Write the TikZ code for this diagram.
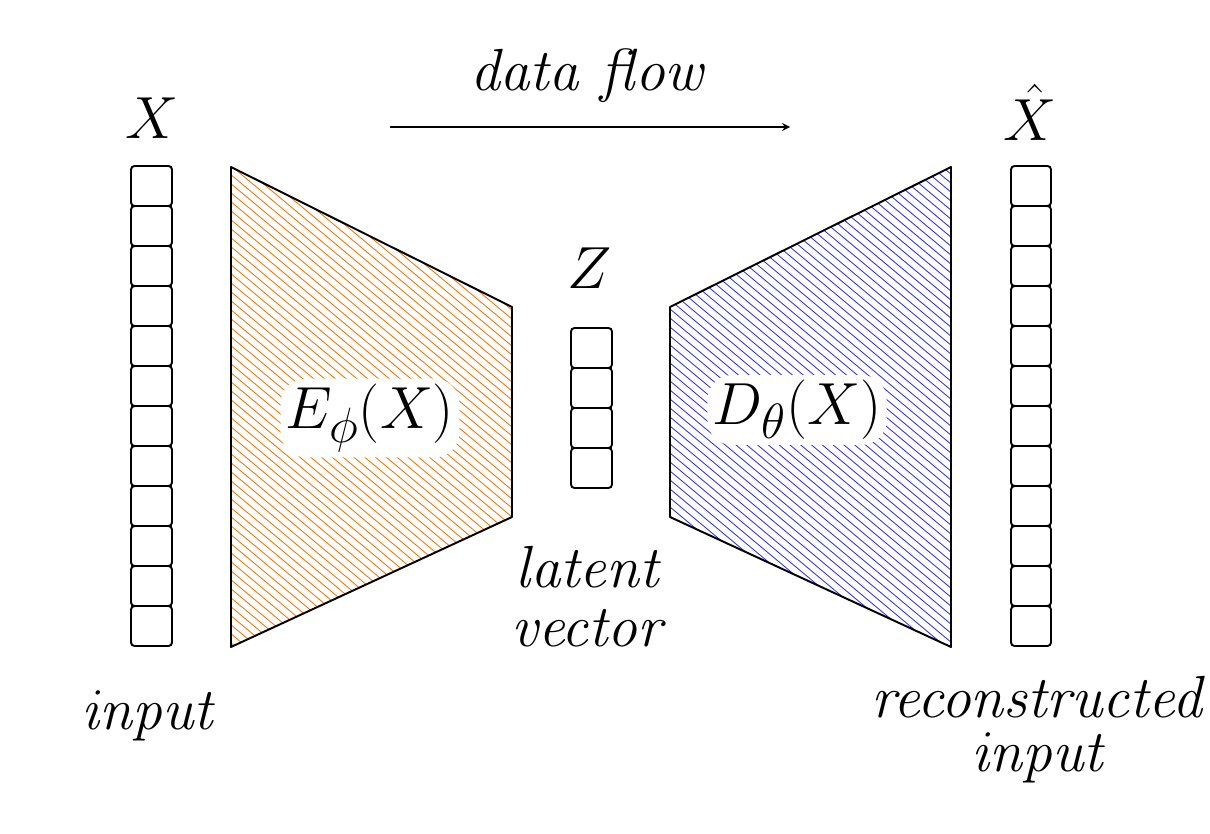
\documentclass[tikz,border=0pt]{standalone}
\usepackage{graphicx}
\newcommand{\bigtxt}[1]{\scalebox{1.36}{\fontsize{24.88}{30}\selectfont #1}}
\begin{document}
\begin{tikzpicture}[x=0.02cm,y=-0.02cm,
  cell/.style={draw=black,line width=1.1pt,rounded corners=2pt,fill=white},
  lbl/.style={inner sep=1pt},
  tagbox/.style={fill=white,rounded corners=14pt,inner sep=3pt}]
\useasboundingbox (0,0) rectangle (1210,834);
% encoder
\coordinate (e1) at (231,167); \coordinate (e2) at (512,307);
\coordinate (e3) at (512,517); \coordinate (e4) at (231,647);
\begin{scope}
\clip (e1)--(e2)--(e3)--(e4)--cycle;
\foreach \i in {-400,-391,...,700}
  \draw[orange!90!red,line width=0.5pt] (200,\i) -- (560,\i+300);
\end{scope}
\draw[line width=1.1pt,line join=round] (e1)--(e2)--(e3)--(e4)--cycle;
% decoder
\coordinate (d1) at (670,307); \coordinate (d2) at (951,167);
\coordinate (d3) at (951,647); \coordinate (d4) at (670,517);
\begin{scope}
\clip (d1)--(d2)--(d3)--(d4)--cycle;
\foreach \i in {-400,-391,...,700}
  \draw[blue!80,line width=0.5pt] (640,\i) -- (1000,\i+300);
\end{scope}
\draw[line width=1.1pt,line join=round] (d1)--(d2)--(d3)--(d4)--cycle;
% columns
\foreach \k in {0,...,11}{
  \draw[cell] (131,166+40*\k) rectangle (172,206+40*\k);
  \draw[cell] (1011,166+40*\k) rectangle (1051,206+40*\k);
}
\foreach \k in {0,...,3}
  \draw[cell] (571,328+40*\k) rectangle (612,368+40*\k);
% labels
\node[lbl] (lx) at (152,118) {\bigtxt{$X$}};
\node[lbl] (lxh) at (1030,112) {\bigtxt{$\hat{X}$}};
\node[lbl] (lz) at (590,268) {\bigtxt{$Z$}};
\node[lbl] (df) at (590,76) {\bigtxt{$\mathit{data\ flow}$}};
\coordinate (a1) at (390,127); \coordinate (a2) at (790,127);
\draw[line width=1pt,-stealth] (a1) -- (a2);
\node[tagbox] (enc) at (370,418) {\bigtxt{$E_\phi(X)$}};
\node[tagbox] (dec) at (797,410) {\bigtxt{$D_\theta(X)$}};
\node[lbl] (inp) at (150,716) {\bigtxt{$\mathit{input}$}};
\node[lbl] (lat1) at (590,567) {\bigtxt{$\mathit{latent}$}};
\node[lbl] (lat2) at (590,628) {\bigtxt{$\mathit{vector}$}};
\node[lbl] (rec1) at (1040,697) {\bigtxt{$\mathit{reconstructed}$}};
\node[lbl] (rec2) at (1040,758) {\bigtxt{$\mathit{input}$}};
\end{tikzpicture}
\end{document}
